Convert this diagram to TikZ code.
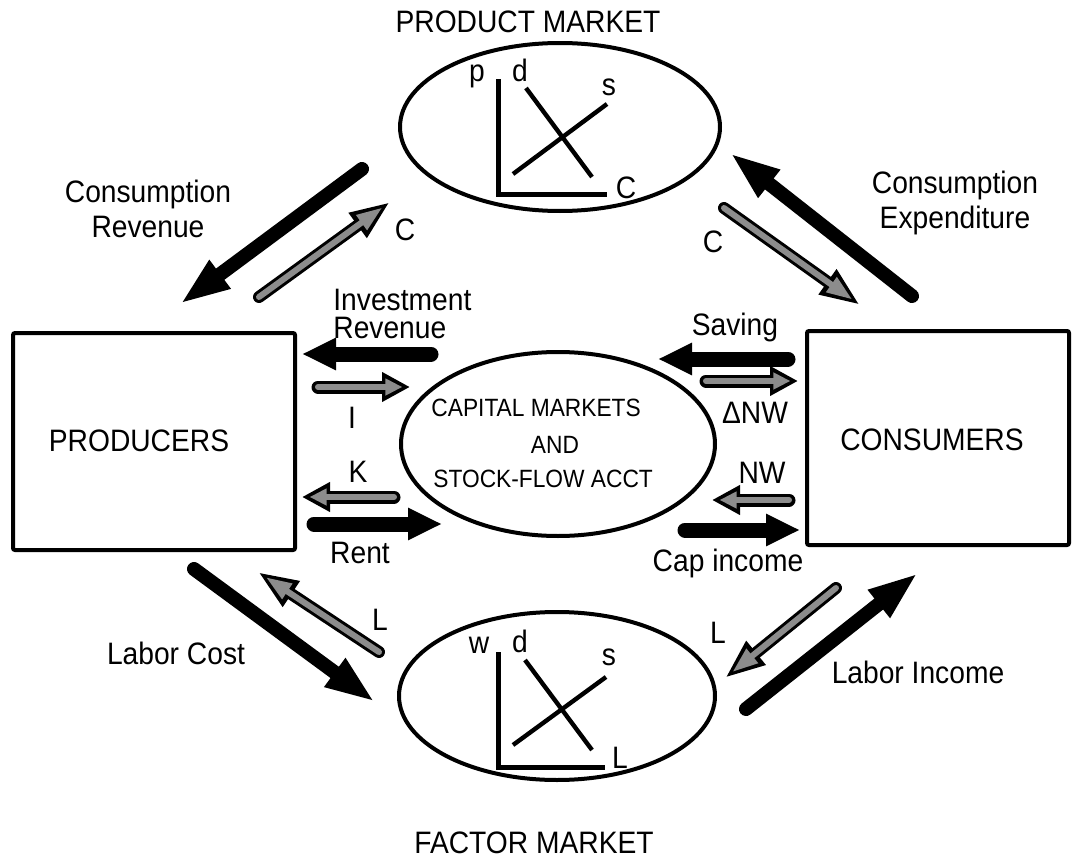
\documentclass[tikz,border=0pt]{standalone}
\usepackage{fontspec}
\setmainfont{Liberation Sans}[FakeStretch=0.91]
\usetikzlibrary{arrows.meta,shapes.geometric}

\tikzset{
  market/.style={draw, ellipse, line width=2pt, inner sep=0pt},
  agent/.style={draw, rectangle, line width=2pt, rounded corners=1pt, inner sep=0pt},
  lab/.style={font=\fontsize{15.5}{17.5}\selectfont, align=center, inner sep=0pt},
  small/.style={font=\fontsize{12.5}{14}\selectfont, inner sep=0pt},
  glab/.style={font=\fontsize{15.5}{17.5}\selectfont, inner sep=0pt, anchor=base},
  axis/.style={line width=2.5pt, line join=miter},
  curve/.style={line width=2.2pt},
  flow/.style={line width=7pt, line cap=round, -{Triangle[length=#1, width=16pt]}},
  flow/.default=25pt,
  flowflat/.style={line width=7.5pt, line cap=round, -{Triangle[length=17pt, width=15pt]}},
  greyflow/.style={line width=6pt, line cap=round, -{Triangle[length=20pt, width=14pt]},
    postaction={draw=black!45, line width=3pt, shorten >=4.6pt, -{Triangle[length=13pt, width=8.5pt]}}},
  greyflat/.style={line width=6.5pt, line cap=round, -{Triangle[length=14pt, width=14pt]},
    postaction={draw=black!45, line width=3pt, shorten >=3.8pt, -{Triangle[length=8.5pt, width=8pt]}}}
}

\begin{document}
\begin{tikzpicture}[x=0.5pt, y=-0.5pt]
    \useasboundingbox (0,0) rectangle (1078,867);

    % markets
    \node[market, minimum width=160pt, minimum height=84pt] (pm) at (560,127) {};
    \node[market, minimum width=157pt, minimum height=92pt] (cm) at (558,444) {};
    \node[market, minimum width=158pt, minimum height=84pt] (fm) at (557,696) {};
    \node[lab] (pmlab) at (528,22) {PRODUCT MARKET};
    \node[lab] (fmlab) at (534,843) {FACTOR MARKET};
    \node[small, anchor=west] (cm1) at (431,408) {CAPITAL MARKETS};
    \node[small] (cm2) at (555,445) {AND};
    \node[small, anchor=west] (cm3) at (433,479) {STOCK-FLOW ACCT};

    % agents
    \node[agent, minimum width=141pt, minimum height=108.5pt] (prod) at (154,441.5) {};
    \node[agent, minimum width=131pt, minimum height=107pt] (cons) at (938,438) {};
    \node[lab] (prodlab) at (139,441) {PRODUCERS};
    \node[lab] (conslab) at (932,440) {CONSUMERS};

    % product market graph
    \draw[axis] (498,79) -- (498,194) -- (607,194);
    \draw[curve] (526,88) -- (592,177);
    \draw[curve] (513,174) -- (607,104);
    \node[glab] (pp) at (477,82) {p};
    \node[glab] (pd) at (520,82) {d};
    \node[glab] (ps) at (609,95) {s};
    \node[glab] (pc) at (626,198) {C};

    % factor market graph
    \draw[axis] (498,652) -- (498,767) -- (605,767);
    \draw[curve] (525,660) -- (592,750);
    \draw[curve] (513,745) -- (606,677);
    \node[glab] (fw) at (479,653) {w};
    \node[glab] (fd) at (520,652) {d};
    \node[glab] (fs) at (609,665) {s};
    \node[glab] (fl) at (620,768) {L};

    % flow ends
    \coordinate (cr1) at (362,169);  \coordinate (cr2) at (180,304);
    \coordinate (ce1) at (912,296);  \coordinate (ce2) at (730,153);
    \coordinate (ir1) at (431,354);  \coordinate (ir2) at (302,354);
    \coordinate (rt1) at (314,524);  \coordinate (rt2) at (442,524);
    \coordinate (sv1) at (788,359);  \coordinate (sv2) at (658,359);
    \coordinate (ci1) at (685,530);  \coordinate (ci2) at (800,530);
    \coordinate (lc1) at (194,569);  \coordinate (lc2) at (375,702);
    \coordinate (li1) at (746,709);  \coordinate (li2) at (918,573);
    \coordinate (gc1) at (259,297);  \coordinate (gc2) at (390,202);
    \coordinate (hc1) at (724,208);  \coordinate (hc2) at (860,305);
    \coordinate (gl1) at (379,652);  \coordinate (gl2) at (258,572);
    \coordinate (hl1) at (836,588);  \coordinate (hl2) at (725,678);
    \coordinate (gi1) at (318,387);  \coordinate (gi2) at (410,387);
    \coordinate (gk1) at (394,497);  \coordinate (gk2) at (302,497);
    \coordinate (dn1) at (706,381);  \coordinate (dn2) at (798,381);
    \coordinate (nw1) at (789,500);  \coordinate (nw2) at (712,500);

    % money flows
    \draw[flow] (cr1) -- (cr2);
    \draw[flow] (ce1) -- (ce2);
    \draw[flowflat] (ir1) -- (ir2);
    \draw[flowflat] (rt1) -- (rt2);
    \draw[flowflat] (sv1) -- (sv2);
    \draw[flowflat] (ci1) -- (ci2);
    \draw[flow] (lc1) -- (lc2);
    \draw[flow] (li1) -- (li2);

    % real flows
    \draw[greyflow] (gc1) -- (gc2);
    \draw[greyflow] (hc1) -- (hc2);
    \draw[greyflow] (gl1) -- (gl2);
    \draw[greyflow] (hl1) -- (hl2);
    \draw[greyflat] (gi1) -- (gi2);
    \draw[greyflat] (gk1) -- (gk2);
    \draw[greyflat] (dn1) -- (dn2);
    \draw[greyflat] (nw1) -- (nw2);

    % flow labels
    \node[lab] (crlab) at (148,209) {Consumption\\Revenue};
    \node[lab] (celab) at (955,203) {Consumption\\Expenditure};
    \node[lab, align=left, anchor=west, font=\fontsize{15.5}{14}\selectfont] (irlab) at (333,314) {Investment\\Revenue};
    \node[lab] (svlab) at (735,327) {Saving};
    \node[lab] (rtlab) at (360,553) {Rent};
    \node[lab] (cilab) at (728,563) {Cap income};
    \node[lab] (lclab) at (176,653) {Labor Cost};
    \node[lab] (lilab) at (918,672) {Labor Income};
    \node[lab] (gclab) at (405,230) {C};
    \node[lab] (hclab) at (713,242) {C};
    \node[lab] (gilab) at (352,418) {I};
    \node[lab] (gklab) at (358,472) {K};
    \node[lab] (dnlab) at (755,413) {ΔNW};
    \node[lab] (nwlab) at (762,473) {NW};
    \node[lab] (gllab) at (380,620) {L};
    \node[lab] (hllab) at (718,633) {L};
\end{tikzpicture}
\end{document}
